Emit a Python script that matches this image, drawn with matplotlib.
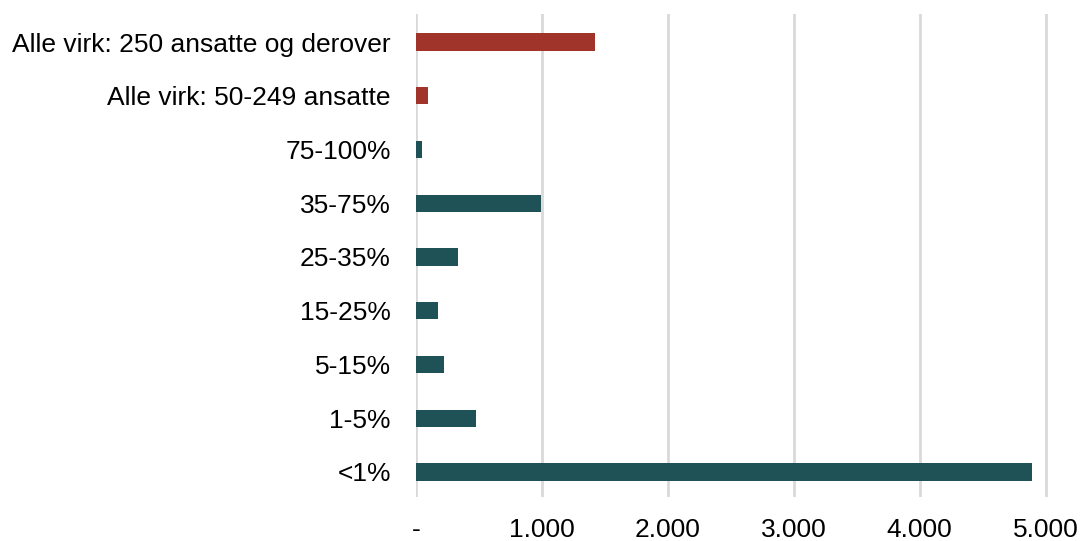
import matplotlib.pyplot as plt
import numpy as np

plt.rcParams['font.family'] = ['Liberation Sans', 'DejaVu Sans']

categories = ["<1%", "1-5%", "5-15%", "15-25%", "25-35%", "35-75%", "75-100%",
              "Alle virk: 50-249 ansatte", "Alle virk: 250 ansatte og derover"]
values = [4890, 474, 220, 180, 336, 997, 50, 98, 1426]
colors = ["#1F5257"] * 7 + ["#A0342B"] * 2
xticks = [0, 1000, 2000, 3000, 4000, 5000]
xticklabels = ["-", "1.000", "2.000", "3.000", "4.000", "5.000"]

fig = plt.figure(figsize=(10.8, 5.41), dpi=100)
ax = fig.add_axes([0.385, 0.081, 0.585, 0.893])

y = np.arange(len(categories))
ax.barh(y, values, height=0.32, color=colors, zorder=3)

ax.set_xlim(0, 5016)
ax.set_ylim(-0.47, 8.52)
ax.set_yticks(y)
ax.set_yticklabels(categories, fontsize=19)
ax.set_xticks(xticks)
ax.set_xticklabels(xticklabels, fontsize=19)
ax.tick_params(axis='both', length=0)
ax.tick_params(axis='x', pad=15)
ax.tick_params(axis='y', pad=18)
ax.grid(axis='x', color='#D9D9D9', linewidth=2, zorder=0)
ax.set_axisbelow(True)
for s in ax.spines.values():
    s.set_visible(False)

fig.savefig("out.png", dpi=100)
